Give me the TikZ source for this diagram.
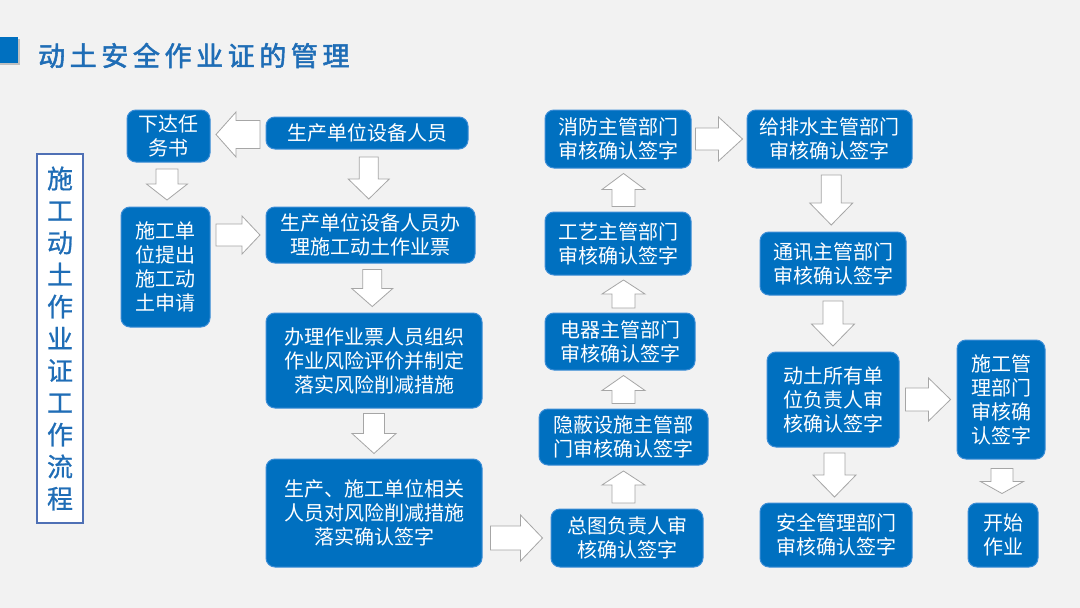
\documentclass[tikz,border=0pt]{standalone}
\usepackage{fontspec}
\setmainfont{Noto Sans CJK SC}
\newfontfamily\titlefont[FakeBold=2,LetterSpace=17]{Noto Sans CJK SC}
\newfontfamily\sidefont[FakeBold=0.8]{Noto Sans CJK SC}
\usetikzlibrary{calc}
\definecolor{bg}{HTML}{F2F2F2}
\definecolor{boxblue}{HTML}{0070C0}
\definecolor{boxedge}{HTML}{3C8DD6}
\definecolor{titleblue}{HTML}{1F6DB6}
\definecolor{vedge}{HTML}{4F70B5}
\definecolor{arrowedge}{HTML}{A6A6A6}
\tikzset{
 bx/.style={rectangle, rounded corners=9pt, fill=boxblue, draw=boxedge, line width=1pt,
   text=white, align=center, inner sep=0pt, font=\fontsize{20}{24}\selectfont},
 blk/.style={fill=white, draw=arrowedge, line width=0.8pt, line join=miter},
}
% #1 centre, #2 angle, #3 length, #4 head width, #5 shaft width, #6 head length
\newcommand\BlkArr[6]{%
  \draw[blk, shift={#1}, rotate=#2]
    ({-#3/2},{-#5/2}) -- ({#3/2-#6},{-#5/2}) -- ({#3/2-#6},{-#4/2}) -- ({#3/2},0)
    -- ({#3/2-#6},{#4/2}) -- ({#3/2-#6},{#5/2}) -- ({-#3/2},{#5/2}) -- cycle;}
\begin{document}
\begin{tikzpicture}[x=1pt,y=-1pt]
\useasboundingbox (0,0) rectangle (1080,608);
\fill[bg] (0,0) rectangle (1080,608);
% title
\fill[black!25] (0,39) rectangle (20,65);
\fill[boxblue] (0,37) rectangle (18,63);
\node[anchor=west, inner sep=0pt, text=titleblue, font=\titlefont\fontsize{27}{30}\selectfont] (title) at (38,55.5) {动土安全作业证的管理};
% vertical label
\node[rectangle, fill=white, draw=vedge, line width=2.5pt, minimum width=46, minimum height=369,
  inner sep=0pt, align=center, text=titleblue, font=\sidefont\fontsize{26}{32}\selectfont] (vb) at (60,338.5)
  {施\\工\\动\\土\\作\\业\\证\\工\\作\\流\\程};
% boxes
\node[bx, minimum width=83, minimum height=52] (b1) at (168.5,136) {下达任\\务书};
\node[bx, minimum width=202, minimum height=32] (b2) at (367,133) {生产单位设备人员};
\node[bx, minimum width=89, minimum height=120] (b3) at (165.5,267) {施工单\\位提出\\施工动\\土申请};
\node[bx, minimum width=209, minimum height=56] (b4) at (370.5,235) {生产单位设备人员办\\理施工动土作业票};
\node[bx, minimum width=216, minimum height=95] (b5) at (374,360.5) {办理作业票人员组织\\作业风险评价并制定\\落实风险削减措施};
\node[bx, minimum width=216, minimum height=108] (b6) at (374,513) {生产、施工单位相关\\人员对风险削减措施\\落实确认签字};
\node[bx, minimum width=152, minimum height=58] (b7) at (627,538) {总图负责人审\\核确认签字};
\node[bx, minimum width=169, minimum height=56] (b8) at (623.5,437) {隐蔽设施主管部\\门审核确认签字};
\node[bx, minimum width=150, minimum height=57] (b9) at (620,341.5) {电器主管部门\\审核确认签字};
\node[bx, minimum width=146, minimum height=63] (b10) at (618,243.5) {工艺主管部门\\审核确认签字};
\node[bx, minimum width=146, minimum height=58] (b11) at (618,139) {消防主管部门\\审核确认签字};
\node[bx, minimum width=165, minimum height=58] (b12) at (829.5,139) {给排水主管部门\\审核确认签字};
\node[bx, minimum width=146, minimum height=63] (b13) at (833,263.5) {通讯主管部门\\审核确认签字};
\node[bx, minimum width=132, minimum height=95] (b14) at (833,399.5) {动土所有单\\位负责人审\\核确认签字};
\node[bx, minimum width=152, minimum height=64] (b15) at (836,535) {安全管理部门\\审核确认签字};
\node[bx, minimum width=88, minimum height=119] (b16) at (1001,399.5) {施工管\\理部门\\审核确\\认签字};
\node[bx, minimum width=70, minimum height=64] (b17) at (1003,535) {开始\\作业};
% arrow positions
\coordinate (m1) at ($(b2.west)!.5!(b1.east)$);
\coordinate (m2) at ($(b1.south)!.5!(b3.north)$);
\coordinate (m3) at ($(b2.south)!.5!(b4.north)$);
\coordinate (m4) at ($(b3.east)!.5!(b4.west)$);
\coordinate (m5) at ($(b4.south)!.5!(b5.north)$);
\coordinate (m6) at ($(b5.south)!.5!(b6.north)$);
\coordinate (m7) at ($(b6.east)!.5!(b7.west)$);
\coordinate (m8) at ($(b7.north)!.5!(b8.south)$);
\coordinate (m9) at ($(b8.north)!.5!(b9.south)$);
\coordinate (m10) at ($(b9.north)!.5!(b10.south)$);
\coordinate (m11) at ($(b10.north)!.5!(b11.south)$);
\coordinate (m12) at ($(b11.east)!.5!(b12.west)$);
\coordinate (m13) at ($(b12.south)!.5!(b13.north)$);
\coordinate (m14) at ($(b13.south)!.5!(b14.north)$);
\coordinate (m15) at ($(b14.east)!.5!(b16.west)$);
\coordinate (m16) at ($(b14.south)!.5!(b15.north)$);
\coordinate (m17) at ($(b16.south)!.5!(b17.north)$);
% block arrows
\BlkArr{(m1)}{180}{44}{45}{28}{20}
\BlkArr{(m2)}{-90}{31}{41}{22}{16}
\BlkArr{(m3)}{-90}{42}{41}{19}{20}
\BlkArr{(m4 |- b4.west)}{0}{44}{38}{22}{18}
\BlkArr{(m5)}{-90}{37}{41}{19}{18}
\BlkArr{(m6)}{-90}{40}{44}{21}{20}
\BlkArr{(m7 |- b7.west)}{0}{52}{46}{24}{22}
\BlkArr{(b8.center |- m8)}{90}{32}{43}{23}{14}
\BlkArr{(b8.center |- m9)}{90}{28}{43}{23}{15}
\BlkArr{(b8.center |- m10)}{90}{28}{43}{23}{14}
\BlkArr{(b8.center |- m11)}{90}{33}{43}{23}{16}
\BlkArr{(m12)}{0}{47}{44}{22}{24}
\BlkArr{(m13)}{-90}{50}{43}{20}{22}
\BlkArr{(m14)}{-90}{45}{43}{20}{22}
\BlkArr{(m15)}{0}{45}{43}{23}{22}
\BlkArr{(m16)}{-90}{44}{43}{21}{22}
\BlkArr{(m17)}{-90}{25}{43}{22}{12}
\end{tikzpicture}
\end{document}
